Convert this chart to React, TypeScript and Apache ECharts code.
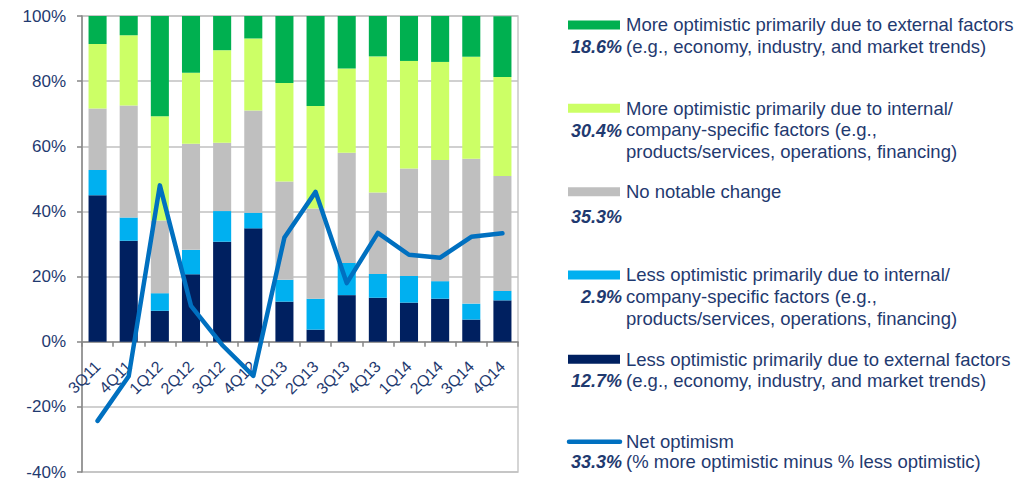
import React, { useEffect, useRef } from "react";
import * as echarts from "echarts";

const categories = ["3Q11", "4Q11", "1Q12", "2Q12", "3Q12", "4Q12", "1Q13", "2Q13", "3Q13", "4Q13", "1Q14", "2Q14", "3Q14", "4Q14"];
const lessExternal = [45.0, 31.0, 9.5, 20.7, 30.7, 34.8, 12.3, 3.7, 14.3, 13.5, 12.0, 13.2, 6.8, 12.7];
const lessInternal = [7.7, 7.1, 5.4, 7.5, 9.4, 4.8, 6.7, 9.5, 9.9, 7.3, 8.2, 5.4, 4.9, 2.9];
const noChange = [18.9, 34.4, 22.3, 32.6, 21.0, 31.4, 30.2, 27.7, 33.8, 25.0, 33.0, 37.2, 44.5, 35.3];
const moreInternal = [19.8, 21.6, 32.0, 21.8, 28.4, 22.1, 30.2, 31.5, 25.9, 41.8, 33.0, 30.1, 31.3, 30.4];
const moreExternal = [8.6, 5.9, 30.8, 17.4, 10.5, 6.9, 20.6, 27.6, 16.1, 12.4, 13.8, 14.1, 12.5, 18.6];
const netOptimism = [-24.3, -10.6, 48.0, 11.0, -1.0, -10.5, 32.0, 46.0, 18.0, 33.4, 26.7, 25.8, 32.2, 33.3];
const yTicks = { min: -40, max: 100, interval: 20 };

const seriesNames = [
  "Less optimistic primarily due to external factors",
  "Less optimistic primarily due to internal/company-specific factors",
  "No notable change",
  "More optimistic primarily due to internal/company-specific factors",
  "More optimistic primarily due to external factors",
  "Net optimism",
];

const legendLabels = [
  "More optimistic primarily due to external factors\n(e.g., economy, industry, and market trends)",
  "More optimistic primarily due to internal/\ncompany-specific factors (e.g.,\nproducts/services, operations, financing)",
  "No notable change",
  "Less optimistic primarily due to internal/\ncompany-specific factors (e.g.,\nproducts/services, operations, financing)",
  "Less optimistic primarily due to external factors\n(e.g., economy, industry, and market trends)",
  "Net optimism\n(% more optimistic minus % less optimistic)",
];

const COLORS = {
  navy: "#002060",
  lightBlue: "#00B0F0",
  gray: "#BFBFBF",
  lightGreen: "#CCFF66",
  green: "#00B050",
  line: "#0070C0",
  text: "#1F3A70",
};

export default function App() {
  const ref = useRef<HTMLDivElement>(null);

  useEffect(() => {
    if (!ref.current) return;
    const chart = echarts.init(ref.current, null, { renderer: "svg" });
    const font = "'Liberation Sans', Arial, sans-serif";

    const barData = [lessExternal, lessInternal, noChange, moreInternal, moreExternal];
    const barColors = [COLORS.navy, COLORS.lightBlue, COLORS.gray, COLORS.lightGreen, COLORS.green];

    const series: any[] = barData.map((d, i) => ({
      name: seriesNames[i],
      type: "bar",
      stack: "total",
      data: d,
      barWidth: "58%",
      itemStyle: { color: barColors[i] },
      z: 2,
    }));
    series.push({
      name: seriesNames[5],
      type: "line",
      data: netOptimism,
      showSymbol: false,
      symbol: "none",
      lineStyle: { color: COLORS.line, width: 4.5, cap: "round", join: "round" },
      z: 5,
    });

    const last = (a: number[]) => a[a.length - 1].toFixed(1) + "%";
    const legendItems = [
      { color: COLORS.green, pct: last(moreExternal), y: 25, pctY: 46.7, kind: "rect" },
      { color: COLORS.lightGreen, pct: last(moreInternal), y: 108.3, pctY: 130.5, kind: "rect" },
      { color: COLORS.gray, pct: last(noChange), y: 191.7, pctY: 216.7, kind: "rect" },
      { color: COLORS.lightBlue, pct: last(lessInternal), y: 275, pctY: 296.7, kind: "rect" },
      { color: COLORS.navy, pct: last(lessExternal), y: 359.3, pctY: 380.5, kind: "rect" },
      { color: COLORS.line, pct: last(netOptimism), y: 441.7, pctY: 461.7, kind: "line" },
    ];
    const lh = 21.7;
    const graphics: any[] = [];
    legendItems.forEach((it, i) => {
      if (it.kind === "rect") {
        graphics.push({ type: "rect", shape: { x: 568, y: it.y - 4.5, width: 52, height: 9 }, style: { fill: it.color } });
      } else {
        graphics.push({
          type: "line",
          shape: { x1: 569, y1: it.y, x2: 620, y2: it.y },
          style: { stroke: it.color, lineWidth: 4.5, lineCap: "round" },
        });
      }
      const thisLh = i === 5 ? 20 : lh;
      graphics.push({
        type: "text",
        x: 626,
        y: it.y - thisLh / 2,
        style: {
          text: legendLabels[i],
          fill: COLORS.text,
          font: `18.5px ${font}`,
          lineHeight: thisLh,
          verticalAlign: "top",
          align: "left",
        },
      });
      graphics.push({
        type: "text",
        x: 622,
        y: it.pctY,
        style: {
          text: it.pct,
          fill: COLORS.text,
          font: `italic bold 18px ${font}`,
          verticalAlign: "middle",
          align: "right",
        },
      });
    });

    const gridTop = 16;
    const gridHeight = 456;

    chart.setOption({
      animation: false,
      grid: {
        left: 82,
        top: gridTop,
        width: 436,
        height: gridHeight,
        show: true,
        borderColor: "#C8C8C8",
        borderWidth: 1.5,
        containLabel: false,
        outerBoundsMode: "none",
      },
      xAxis: {
        type: "category",
        data: categories,
        offset: 0,
        axisLine: { onZero: false, lineStyle: { color: "#868686", width: 1.5 } },
        axisTick: { show: true, alignWithLabel: false, length: 5, lineStyle: { color: "#868686", width: 1.5 } },
        axisLabel: {
          rotate: 45,
          color: COLORS.text,
          fontFamily: font,
          fontSize: 16,
          margin: 22,
          interval: 0,
        },
        z: 1,
      },
      yAxis: {
        type: "value",
        min: yTicks.min,
        max: yTicks.max,
        interval: yTicks.interval,
        axisLine: { show: true, lineStyle: { color: "#868686", width: 1.5 } },
        axisTick: { show: true, length: 5, lineStyle: { color: "#868686", width: 1.5 } },
        axisLabel: {
          color: COLORS.text,
          fontFamily: font,
          fontSize: 17,
          margin: 16,
          formatter: (v: number) => `${v}%`,
        },
        splitLine: { show: true, lineStyle: { color: "#C0C0C0", width: 1.5 } },
      },
      series,
      graphic: graphics,
    });

    // Move the category axis onto the value axis' zero line.
    const zeroPx = chart.convertToPixel({ yAxisIndex: 0 }, 0) as number;
    const bottomPx = gridTop + gridHeight;
    chart.setOption({ xAxis: { offset: -(bottomPx - zeroPx) } });

    return () => chart.dispose();
  }, []);

  return (
    <div
      ref={ref}
      style={{ position: "absolute", left: 0, top: 0, width: 1029, height: 478, background: "#fff" }}
    />
  );
}
